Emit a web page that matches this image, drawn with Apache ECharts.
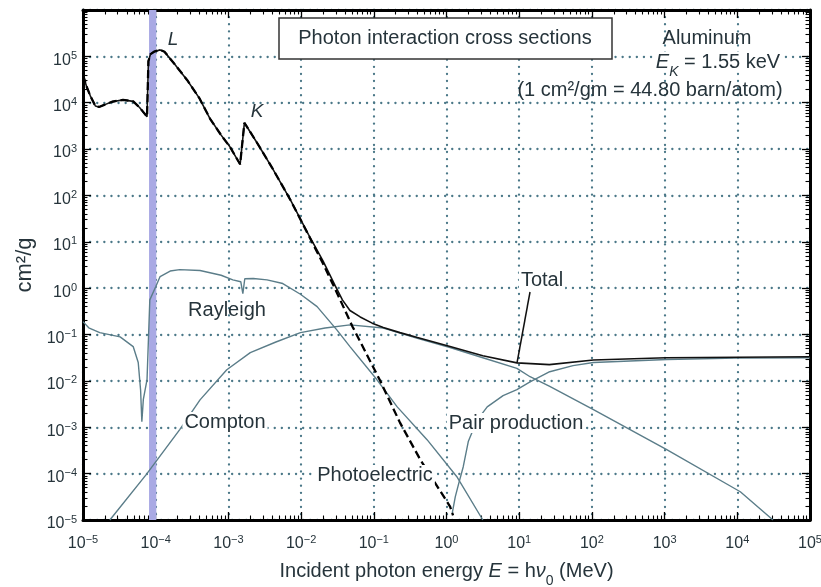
<!DOCTYPE html>
<html><head><meta charset="utf-8">
<script src="https://cdn.jsdelivr.net/npm/echarts@6/dist/echarts.min.js"></script>
<style>html,body{margin:0;padding:0;background:#fff}#c{width:821px;height:587px}</style>
</head><body><div id="c"></div>
<script>
// ---------- data (energy in MeV, cross section in cm^2/g) ----------
const photoelectric = [
  [1e-5,3.98e4],[1.12e-5,2.24e4],[1.26e-5,1.41e4],[1.48e-5,8.5e3],[1.66e-5,8.1e3],
  [2.0e-5,9.1e3],[2.51e-5,1.05e4],[3.55e-5,1.15e4],[4.9e-5,1.07e4],[6.0e-5,7.9e3],
  [7.6e-5,5.0e3],[7.94e-5,4.8e3],[7.94e-5,7.9e4],[8.5e-5,1.12e5],[9.5e-5,1.26e5],
  [1.15e-4,1.38e5],[1.32e-4,1.26e5],[1.78e-4,7.1e4],[2.7e-4,3.1e4],[3.98e-4,1.26e4],
  [5.6e-4,4.5e3],[7.94e-4,2.0e3],[1.05e-3,1.12e3],[1.45e-3,470],[1.66e-3,3.7e3],
  [2.51e-3,1.32e3],[3.98e-3,400],[7.1e-3,81],[1.26e-2,14.1],[2.0e-2,3.4],
  [2.95e-2,0.95],[5.1e-2,0.148],[0.12,1.07e-2],[0.229,1.26e-3],[0.436,2.0e-4],
  [1.12,1.95e-5],[1.23,1.26e-5]
];
const total = [
  [1e-5,3.98e4],[1.12e-5,2.24e4],[1.26e-5,1.41e4],[1.48e-5,8.5e3],[1.66e-5,8.1e3],
  [2.0e-5,9.1e3],[2.51e-5,1.05e4],[3.55e-5,1.15e4],[4.9e-5,1.07e4],[6.0e-5,7.9e3],
  [7.6e-5,5.0e3],[7.94e-5,4.8e3],[7.94e-5,7.9e4],[8.5e-5,1.12e5],[9.5e-5,1.26e5],
  [1.15e-4,1.38e5],[1.32e-4,1.26e5],[1.78e-4,7.1e4],[2.7e-4,3.1e4],[3.98e-4,1.26e4],
  [5.6e-4,4.5e3],[7.94e-4,2.0e3],[1.05e-3,1.12e3],[1.45e-3,470],[1.66e-3,3.7e3],
  [2.51e-3,1.32e3],[3.98e-3,400],[7.1e-3,81],[1.26e-2,14.5],[2.0e-2,3.9],
  [2.95e-2,1.12],[3.7e-2,0.56],[4.7e-2,0.33],[6.5e-2,0.24],[9.5e-2,0.176],
  [0.135,0.142],[0.229,0.110],[0.398,0.086],[1.12,0.055],[3.16,0.035],
  [9.3,0.0245],[26,0.0224],[105,0.0282],[1050,0.0316],[1e4,0.0324],[1e5,0.0331]
];
const compton = [
  [2.34e-5,1e-5],[7.4e-5,9.5e-5],[2.14e-4,8.9e-4],[4.07e-4,3.9e-3],[9.5e-4,1.74e-2],
  [2.0e-3,4.07e-2],[4.5e-3,6.9e-2],[9.8e-3,0.110],[2.14e-2,0.138],[4.7e-2,0.162],
  [0.135,0.138],[0.229,0.107],[0.398,0.083],[1.12,0.0525],[3.16,0.0316],
  [9.3,0.0186],[14.1,0.0123],[26.3,7.6e-3],[105,2.4e-3],[1070,3.3e-4],
  [1.1e4,4.07e-5],[3.1e4,1e-5]
];
const rayleigh = [
  [1e-5,0.19],[1.2e-5,0.14],[1.7e-5,0.11],[3.24e-5,0.089],[4.9e-5,0.055],
  [5.75e-5,0.025],[6.2e-5,6.3e-3],[6.45e-5,1.32e-3],[6.76e-5,4.0e-3],[7.6e-5,1.07e-2],
  [8.3e-5,0.56],[1e-4,1.07],[1.15e-4,1.78],[1.58e-4,2.34],[2.14e-4,2.51],
  [4.07e-4,2.4],[7.94e-4,1.9],[1.15e-3,1.51],[1.48e-3,1.38],[1.58e-3,0.76],
  [1.68e-3,1.6],[2.2e-3,1.62],[3.4e-3,1.51],[5.6e-3,1.26],[9.8e-3,0.74],
  [1.66e-2,0.40],[3.1e-2,0.126],[4.7e-2,0.055],[0.11,1.07e-2],[0.21,2.75e-3],
  [0.54,5.4e-4],[1.38,8.7e-5],[3.16,1e-5]
];
const pairProduction = [
  [1.2,1.4e-5],[1.32,3.16e-5],[1.48,6.3e-5],[1.7,1.41e-4],[2.0,5.0e-4],
  [2.63,1.41e-3],[3.63,2.75e-3],[6.0,4.8e-3],[9.3,6.5e-3],[14.1,9.5e-3],
  [26.3,1.58e-2],[55,2.14e-2],[105,2.5e-2],[1070,2.9e-2],[1e4,3.1e-2],[1e5,3.16e-2]
];
const lEdgeBand = [8.1e-5, 1.02e-4];
const xTickExponents = [-5,-4,-3,-2,-1,0,1,2,3,4,5];
const yTickExponents = [-5,-4,-3,-2,-1,0,1,2,3,4,5];
const xRange = [1e-5, 1e5];
const yRange = [1e-5, 1e6];

// ---------- styling ----------
const FONT = '"Liberation Sans", Arial, Helvetica, sans-serif';
const TXT = '#26343b';
const GRAY = '#5b7d89';
const GRID = '#4b7888';

// minor tick positions, expressed in decades (for decorative value axes)
function minorDecades(lo, hi) {
  const out = [];
  for (let d = lo; d < hi; d++) for (let m = 2; m <= 9; m++) out.push(d + Math.log10(m));
  return out;
}

function expLabel(v, shown) {
  const e = Math.round(Math.log10(v));
  if (shown.indexOf(e) < 0) return '';
  return '{b|10}{s|' + (e < 0 ? '\u2212' + (-e) : String(e)) + '}';
}
const labelRich = {
  b: {fontSize: 16, fontFamily: FONT, color: TXT, lineHeight: 20},
  s: {fontSize: 11, fontFamily: FONT, color: TXT, lineHeight: 10, verticalAlign: 'top'}
};
const dotted = {color: GRID, width: 2.3, type: [0.1, 7], cap: 'round'};

function majorAxis(dim, pos, labels) {
  const isX = dim === 'x';
  const range = isX ? xRange : yRange;
  const ax = {
    type: 'log', logBase: 10, min: range[0], max: range[1], interval: 1,
    position: pos, gridIndex: 0,
    axisLine: {show: true, onZero: false, lineStyle: {color: '#000', width: 3}},
    axisTick: {show: true, inside: true, length: 8, lineStyle: {color: '#000', width: 1.3}},
    axisLabel: {show: false},
    splitLine: {show: labels, lineStyle: dotted},
    minorTick: {show: false}, minorSplitLine: {show: false},
    axisPointer: {show: false}, silent: true
  };
  if (labels) {
    ax.axisLabel = isX ? {
      show: true, margin: 14, showMinLabel: true, showMaxLabel: true,
      formatter: v => expLabel(v, xTickExponents), rich: labelRich
    } : {
      show: true, margin: 6, showMinLabel: true, showMaxLabel: true, padding: [8, 0, 0, 0],
      formatter: v => expLabel(v, yTickExponents), rich: labelRich
    };
  }
  return ax;
}
function minorAxis(dim, pos) {
  const isX = dim === 'x';
  const lo = -5, hi = isX ? 5 : 6;
  return {
    type: 'value', min: lo, max: hi, position: pos, gridIndex: 0,
    axisLine: {show: false, onZero: false},
    axisTick: {show: true, inside: true, length: 4.5, customValues: minorDecades(lo, hi),
      lineStyle: {color: '#000', width: 1.1}},
    axisLabel: {show: false}, splitLine: {show: false},
    axisPointer: {show: false}, silent: true
  };
}

const chart = echarts.init(document.getElementById('c'), null, {renderer: 'canvas'});
const xAxes = [majorAxis('x', 'bottom', true), minorAxis('x', 'bottom'),
               majorAxis('x', 'top', false), minorAxis('x', 'top')];
const yAxes = [majorAxis('y', 'left', true), minorAxis('y', 'left'),
               majorAxis('y', 'right', false), minorAxis('y', 'right')];
xAxes[0].name = '{n|Incident photon energy }{i|E}{n| = h}{i|\u03bd}{sub|0}{n| (MeV)}';
xAxes[0].nameLocation = 'middle';
xAxes[0].nameGap = 41;
xAxes[0].nameTextStyle = {rich: {
  n: {fontSize: 20, fontFamily: FONT, color: TXT},
  i: {fontSize: 20, fontFamily: FONT, color: TXT, fontStyle: 'italic'},
  sub: {fontSize: 14, fontFamily: FONT, color: TXT, verticalAlign: 'bottom', lineHeight: 14, padding: [0, 0, -7, 0]}
}};
yAxes[0].name = 'cm\u00b2/g';
yAxes[0].nameLocation = 'middle';
yAxes[0].nameRotate = 90;
yAxes[0].nameGap = 47;
yAxes[0].nameTextStyle = {fontSize: 22, fontFamily: FONT, color: TXT};

function lineSeries(name, data, color, width, type, z) {
  return {name, type: 'line', data, xAxisIndex: 0, yAxisIndex: 0, symbol: 'none',
    smooth: false, clip: true, z: z, silent: true,
    lineStyle: {color, width, type: type || 'solid'}};
}

const option = {
  animation: false,
  backgroundColor: '#fff',
  grid: {left: 83, right: 11, top: 10, bottom: 67, containLabel: false, outerBoundsMode: 'none'},
  xAxis: xAxes,
  yAxis: yAxes,
  series: [
    {type: 'line', data: [], xAxisIndex: 0, yAxisIndex: 0, z: -1, silent: true,
     markArea: {silent: true, itemStyle: {color: '#a9a9e4', opacity: 1},
       data: [[{xAxis: lEdgeBand[0]}, {xAxis: lEdgeBand[1]}]]}},
    lineSeries('Rayleigh', rayleigh, GRAY, 1.4, 'solid', 3),
    lineSeries('Compton', compton, GRAY, 1.4, 'solid', 3),
    lineSeries('Pair production', pairProduction, GRAY, 1.4, 'solid', 3),
    lineSeries('Total', total, '#111', 1.6, 'solid', 4),
    lineSeries('Photoelectric', photoelectric, '#000', 2.3, [8, 4], 5)
  ]
};
chart.setOption(option);

// ---------- annotations ----------
function label(text, x, y, size, opts) {
  return {type: 'text', z: 100, silent: true,
    style: Object.assign({text, x, y, font: (size || 20) + 'px ' + FONT, fill: TXT,
      align: 'center', verticalAlign: 'middle', backgroundColor: '#fff', padding: [0, 2]}, opts || {})};
}
chart.setOption({graphic: [
  {type: 'rect', z: 100, silent: true, shape: {x: 279, y: 18, width: 333, height: 41},
   style: {fill: '#fff', stroke: '#333', lineWidth: 1.5}},
  label('Photon interaction cross sections', 445, 38.5, 20, {backgroundColor: null}),
  label('Aluminum', 707, 38, 20, {backgroundColor: null}),
  {type: 'text', z: 100, silent: true, style: {
    text: '{i|E}{sub|K}{n| = 1.55 keV}', x: 718, y: 62, align: 'center', verticalAlign: 'middle',
    backgroundColor: '#fff', padding: [0, 2],
    rich: {
      n: {fontSize: 20, fontFamily: FONT, fill: TXT, color: TXT},
      i: {fontSize: 20, fontFamily: FONT, fontStyle: 'italic', fill: TXT, color: TXT},
      sub: {fontSize: 14, fontFamily: FONT, fontStyle: 'italic', fill: TXT, color: TXT, verticalAlign: 'bottom', lineHeight: 12, padding: [0, 0, -7, 0]}
    }}},
  label('(1 cm\u00b2/gm = 44.80 barn/atom)', 650, 90, 20, {backgroundColor: null}),
  label('L', 173, 40, 19, {font: 'italic 19px ' + FONT, backgroundColor: null}),
  label('K', 257, 112, 19, {font: 'italic 19px ' + FONT, backgroundColor: null}),
  label('Rayleigh', 227, 310, 20, {backgroundColor: null}),
  label('Compton', 225, 422, 20),
  label('Photoelectric', 375, 475, 20),
  label('Pair production', 516, 423, 20),
  label('Total', 542, 280, 20),
  {type: 'line', z: 100, silent: true, shape: {x1: 530, y1: 292, x2: 517, y2: 363},
   style: {stroke: '#111', lineWidth: 1.5}}
]});
</script>
</body></html>
